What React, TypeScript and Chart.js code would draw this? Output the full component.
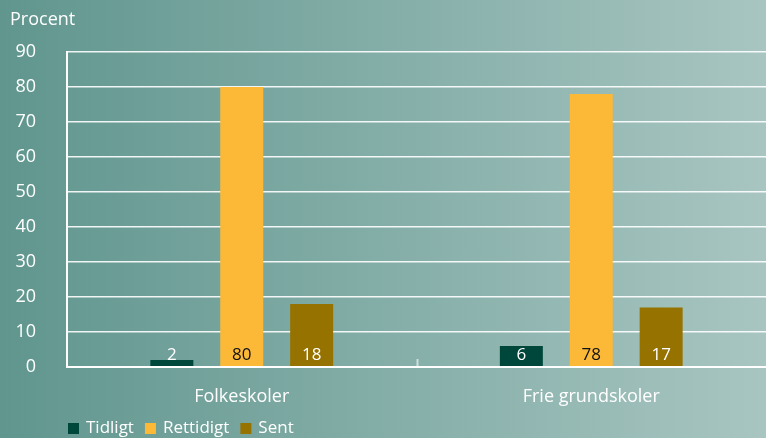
import React, { useEffect, useRef } from 'react';
import { Chart, registerables } from 'chart.js';

Chart.register(...registerables);

const categories = ['Folkeskoler', 'Frie grundskoler'];
const seriesNames = ['Tidligt', 'Rettidigt', 'Sent'];
const tidligt = [2, 6];
const rettidigt = [80, 78];
const sent = [18, 17];
const seriesColors = ['#00473b', '#fcb938', '#967200'];
const labelColors = ['#ffffff', '#111111', '#ffffff'];
const yMin = 0;
const yMax = 90;
const yStep = 10;
const yTitle = 'Procent';

const FONT = "'Open Sans', 'DejaVu Sans', sans-serif";

const overlayPlugin = {
  id: 'overlay',
  afterDraw(chart: any) {
    const ctx = chart.ctx;
    const yScale = chart.scales.y;
    const xScale = chart.scales.x;
    const zeroY = yScale.getPixelForValue(0);
    ctx.save();
    // y title
    ctx.fillStyle = '#ffffff';
    ctx.font = `18px ${FONT}`;
    ctx.textAlign = 'left';
    ctx.textBaseline = 'middle';
    ctx.fillText(yTitle, 10, 20);

    // value labels
    ctx.font = `17px ${FONT}`;
    ctx.textAlign = 'center';
    chart.data.datasets.forEach((ds: any, i: number) => {
      const meta = chart.getDatasetMeta(i);
      meta.data.forEach((el: any, j: number) => {
        ctx.fillStyle = labelColors[i];
        ctx.fillText(String(ds.data[j]), el.x, zeroY - 12);
      });
    });

    // category separator tick
    const sx = Math.round(xScale.getPixelForValue(0.5)) + 0.5;
    ctx.strokeStyle = 'rgba(255,255,255,0.6)';
    ctx.lineWidth = 2;
    ctx.beginPath();
    ctx.moveTo(sx, zeroY - 8);
    ctx.lineTo(sx, zeroY);
    ctx.stroke();

    // legend
    ctx.font = `17px ${FONT}`;
    ctx.textAlign = 'left';
    ctx.textBaseline = 'middle';
    let lx = 68;
    const ly = 428;
    seriesNames.forEach((name, i) => {
      ctx.fillStyle = seriesColors[i];
      ctx.fillRect(lx, ly - 5, 11, 11);
      lx += 11 + 7;
      ctx.fillStyle = '#ffffff';
      ctx.fillText(name, lx, ly);
      lx += ctx.measureText(name).width + 11;
    });
    ctx.restore();
  },
};

export default function App() {
  const ref = useRef<HTMLCanvasElement>(null);
  useEffect(() => {
    document.body.style.margin = '0';
    const canvas = ref.current!;
    Chart.defaults.font.family = FONT;
    const chart = new Chart(canvas, {
      type: 'bar',
      data: {
        labels: categories,
        datasets: [
          { label: seriesNames[0], data: tidligt, backgroundColor: seriesColors[0] },
          { label: seriesNames[1], data: rettidigt, backgroundColor: seriesColors[1] },
          { label: seriesNames[2], data: sent, backgroundColor: seriesColors[2] },
        ],
      },
      options: {
        animation: false,
        responsive: false,
        devicePixelRatio: 1,
        layout: { padding: { top: 52, left: 0, right: -3, bottom: 0 } },
        datasets: {
          bar: { categoryPercentage: 0.6, barPercentage: 0.615 },
        },
        plugins: {
          legend: { display: false },
          tooltip: { enabled: false },
        },
        scales: {
          x: {
            grid: { display: false, drawTicks: false },
            border: { display: true, color: '#ffffff', width: 2 },
            ticks: { color: '#ffffff', font: { size: 18, family: FONT }, padding: 19 },
            afterFit: (s: any) => {
              s.height = 71;
            },
          },
          y: {
            min: yMin,
            max: yMax,
            ticks: {
              stepSize: yStep,
              color: '#ffffff',
              font: { size: 18, family: FONT },
              padding: 31,
            },
            grid: {
              color: 'rgba(255,255,255,0.9)',
              lineWidth: (c: any) => (c.tick && c.tick.value === 0 ? 2 : 1.5),
              drawTicks: false,
            },
            border: { display: true, color: '#ffffff', width: 2 },
            afterFit: (s: any) => {
              s.width = 67;
            },
          },
        },
      },
      plugins: [overlayPlugin],
    });
    return () => chart.destroy();
  }, []);
  return (
    <div
      style={{
        width: 766,
        height: 438,
        background: 'linear-gradient(to right, #60968e, #a8c5c1)',
      }}
    >
      <canvas ref={ref} width={766} height={438} style={{ display: 'block' }} />
    </div>
  );
}
